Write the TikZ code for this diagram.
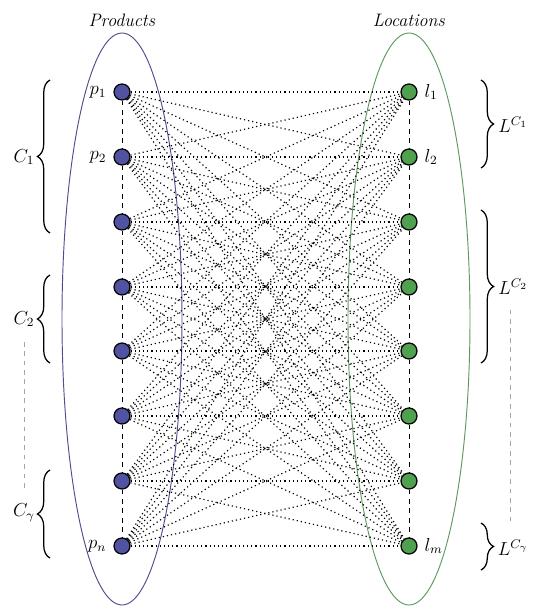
\documentclass[tikz,border=0pt]{standalone}
\usepackage{tikz}
\usetikzlibrary{positioning, decorations.pathreplacing, calc}
\usepackage{amsmath}
\usepackage{xcolor}
\definecolor{prodblue}{HTML}{5252A3}
\definecolor{prodline}{HTML}{4E4E8E}
\definecolor{locgreen}{HTML}{4FA04F}
\definecolor{locline}{HTML}{5E9A5E}

\begin{document}
\begin{tikzpicture}[x=0.0224cm, y=-0.0224cm, font=\fontsize{11.5}{13}\selectfont,
    prod/.style={circle, draw=black, thick, fill=prodblue, minimum size=16*0.0224cm, inner sep=0pt},
    loc/.style={circle, draw=black, thick, fill=locgreen, minimum size=16*0.0224cm, inner sep=0pt},
    link/.style={line width=0.75pt, dash pattern=on 0.75pt off 1.9pt},
    column/.style={dashed, thin},
    skip/.style={dashed, thin, gray!70},
    brc/.style={decorate, decoration={brace, amplitude=8pt}, thick}]
    \useasboundingbox (0,0) rectangle (540,615);
    % the two groups
    \draw[prodline, semithick] (122,319) ellipse [x radius=60, y radius=286];
    \draw[locline, semithick] (409,319) ellipse [x radius=61, y radius=286];
    \node (prods) at (122,20) {\textit{Products}};
    \node (locs) at (409,20) {\textit{Locations}};
    % nodes
    \foreach \i/\y in {1/92, 2/157, 3/222, 4/287, 5/351, 6/416, 7/481, 8/546} {
      \node[prod] (p\i) at (122,\y) {};
      \node[loc] (l\i) at (409,\y) {};
    }
    \node[left=1pt of p1] (pl1) {$p_1$};
    \node[left=1pt of p2] (pl2) {$p_2$};
    \node[left=1pt of p8] (pln) {$p_n$};
    \node[right=1pt of l1] (ll1) {$l_1$};
    \node[right=1pt of l2] (ll2) {$l_2$};
    \node[right=1pt of l8] (llm) {$l_m$};
    % every product to every location
    \foreach \i in {1,...,8}
      \foreach \j in {1,...,8}
        \draw[link] (p\i) -- (l\j);
    \foreach \i/\j in {1/2, 2/3, 3/4, 4/5, 5/6, 6/7, 7/8} {
      \draw[column] (p\i) -- (p\j);
      \draw[column] (l\i) -- (l\j);
    }
    % product clusters
    \draw[brc] (50,233) -- (50,80);
    \draw[brc] (50,363) -- (50,275);
    \draw[brc] (50,558) -- (50,470);
    \node (c1) at (24,157) {$C_1$};
    \node (c2) at (24,319) {$C_2$};
    \node (cg) at (24,513) {$C_\gamma$};
    \draw[skip, shorten <=6pt, shorten >=6pt] (c2) -- (cg);
    % location clusters
    \draw[brc] (481,80) -- (481,168);
    \draw[brc] (481,210) -- (481,363);
    \draw[brc] (481,523) -- (481,570);
    \node (lc1) at (513,125) {$L^{C_1}$};
    \node (lc2) at (513,287) {$L^{C_2}$};
    \node (lcg) at (513,548) {$L^{C_\gamma}$};
    \draw[skip, shorten <=6pt, shorten >=6pt] ($(lc2.south)+(-3,0)$) -- ($(lcg.north)+(-3,0)$);
\end{tikzpicture}
\end{document}
